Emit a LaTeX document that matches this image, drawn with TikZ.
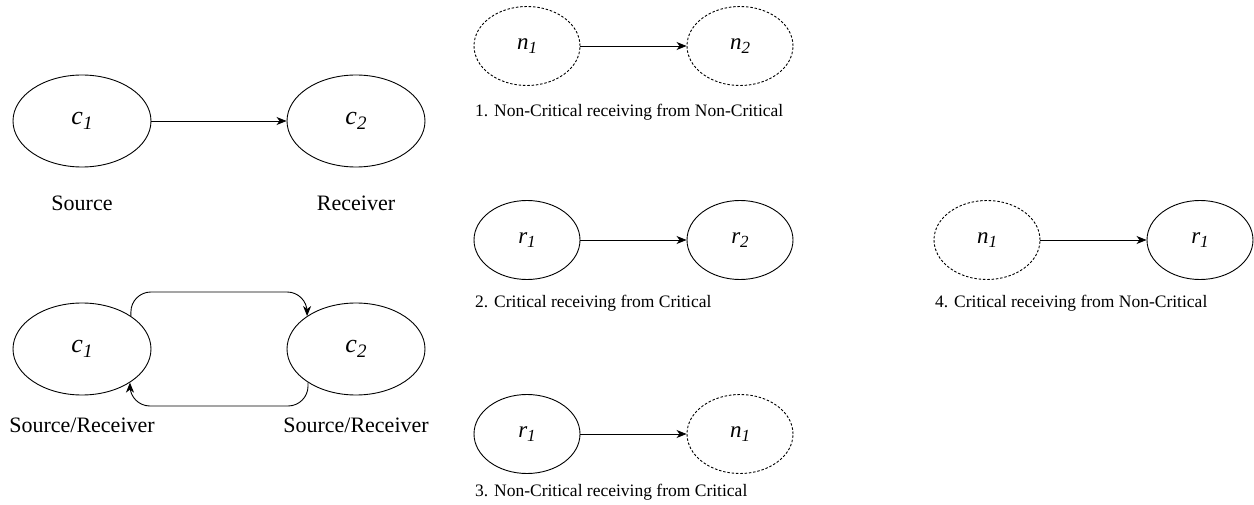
\documentclass[tikz,border=0pt]{standalone}
\usepackage{fontspec}
\setmainfont{Liberation Serif}
\usetikzlibrary{arrows.meta,shapes.geometric}

% italic symbol with a lowered italic index
\newcommand{\bigsym}[2]{{\fontsize{26}{26}\selectfont\itshape #1\raisebox{-4.5pt}{\fontsize{19}{19}\selectfont #2}}}
\newcommand{\smallsym}[2]{{\fontsize{23}{23}\selectfont\itshape #1\raisebox{-4pt}{\fontsize{17}{17}\selectfont #2}}}

\tikzset{
  bigell/.style={ellipse, draw, line width=0.9pt, minimum width=138pt, minimum height=92pt, inner sep=0pt},
  crit/.style={ellipse, draw, line width=0.9pt, minimum width=106pt, minimum height=79pt, inner sep=0pt},
  noncrit/.style={crit, dash pattern=on 2.5pt off 1.8pt},
  link/.style={line width=0.9pt, -{Stealth[length=10pt,width=8pt,inset=3pt]}},
  rolelbl/.style={font=\fontsize{22}{22}\selectfont},
  caselbl/.style={font=\fontsize{17.5}{18}\selectfont, anchor=west, inner sep=0pt},
}

\begin{document}
\begin{tikzpicture}[x=1pt, y=-1pt]
\useasboundingbox (0,0) rectangle (1254,505);

% one-way exchange
\node[bigell] (sa) at (82,121) {\bigsym{c}{1}};
\node[bigell] (sb) at (356,121) {\bigsym{c}{2}};
\draw[link] (sa) -- (sb);
\node[rolelbl] (srcl) at (82,203) {Source};
\node[rolelbl] (rcvl) at (356,203) {Receiver};

% two-way exchange
\node[bigell] (ta) at (82,349) {\bigsym{c}{1}};
\node[bigell] (tb) at (356,349) {\bigsym{c}{2}};
\coordinate (topmid) at (219,292);
\coordinate (botmid) at (219,406);
\draw[link, rounded corners=20pt] (ta.34) |- (topmid) -| (tb.146);
\draw[link, rounded corners=20pt] (tb.215) |- (botmid) -| (ta.325);
\node[rolelbl] (tal) at (82,425) {Source/Receiver};
\node[rolelbl] (tbl) at (356,425) {Source/Receiver};

% case 1
\node[noncrit] (a1) at (527,46) {\smallsym{n}{1}};
\node[noncrit] (a2) at (740,46) {\smallsym{n}{2}};
\draw[link] (a1) -- (a2);
\node[caselbl] (c1l) at (475,112) {1. Non-Critical receiving from Non-Critical};

% case 2
\node[crit] (b1) at (527,240) {\smallsym{r}{1}};
\node[crit] (b2) at (740,240) {\smallsym{r}{2}};
\draw[link] (b1) -- (b2);
\node[caselbl] (c2l) at (475,303) {2. Critical receiving from Critical};

% case 3
\node[crit] (d1) at (527,434) {\smallsym{r}{1}};
\node[noncrit] (d2) at (740,434) {\smallsym{n}{1}};
\draw[link] (d1) -- (d2);
\node[caselbl] (c3l) at (475,492) {3. Non-Critical receiving from Critical};

% case 4
\node[noncrit] (e1) at (987,240) {\smallsym{n}{1}};
\node[crit] (e2) at (1200,240) {\smallsym{r}{1}};
\draw[link] (e1) -- (e2);
\node[caselbl] (c4l) at (935,303) {4. Critical receiving from Non-Critical};
\end{tikzpicture}
\end{document}
